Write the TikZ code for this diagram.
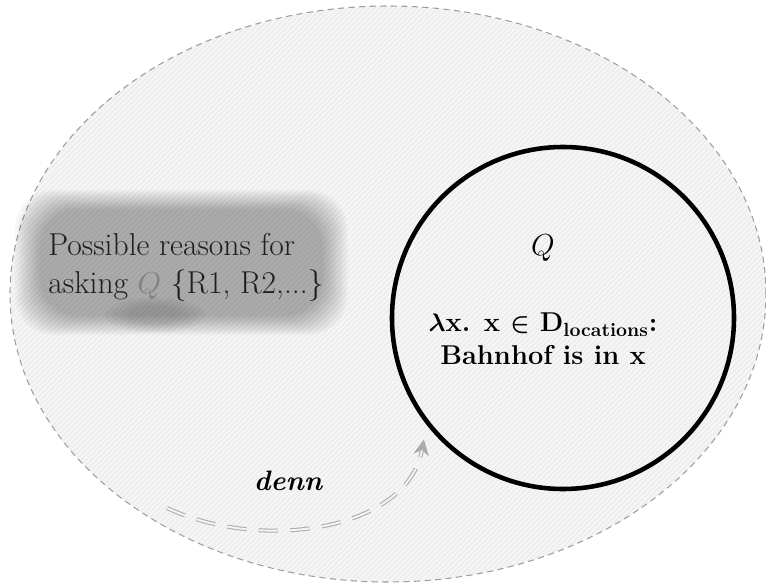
\documentclass[tikz,border=0pt]{standalone}
\usepackage{amsmath}
\usetikzlibrary{arrows.meta,patterns,calc}
\tikzset{
  becausearrow/.style={draw=black!33, line width=0.6pt, double=black!4, double distance=1.1pt,
    dash pattern=on 11pt off 7pt, -{Stealth[length=9pt,width=9pt,fill=black!33]}},
}

\begin{document}
\begin{tikzpicture}
			%%%%% START %%%%%
			\useasboundingbox (0, 0) rectangle (15.32, -11.66);
			
			\fill[black!4] (7.76, -5.88) ellipse (7.56 and 5.76);
			\fill[pattern=north east lines, pattern color=black!9] (7.76, -5.88) ellipse (7.56 and 5.76);
			\draw[line width=0.6pt, color=black!38, dash pattern=on 3.5pt off 2.5pt] (7.76, -5.88) ellipse (7.56 and 5.76);
			
			\foreach \i in {0,...,11}
				\fill[black, opacity=0.026, rounded corners=22pt] ($(0.3, -3.8)+(0.045*\i, -0.035*\i)$) rectangle ($(6.95, -6.7)-(0.045*\i, -0.035*\i)$);
			\foreach \i in {0,...,3}
				\fill[black, opacity=0.03] (3.1, -6.3) ellipse ({1.0-0.15*\i} and {0.35-0.05*\i});
			
			\node[text=black!88, align=left, font=\fontsize{18}{22}\selectfont] (reasons) at (3.72, -5.35)
				{Possible reasons for\\asking {\color{black!50}$Q$} \{R1, R2,...\}};
			
			\node[draw, circle, line width=2.6pt, minimum size=6.84cm, inner sep=0pt] (qset) at (11.26, -6.36) {};
			\node[font=\fontsize{17}{20}\selectfont] (qname) at (10.86, -4.96) {$Q$};
			\node[align=center, font=\bfseries\fontsize{15.5}{19}\selectfont] (qdef) at (10.86, -6.78)
				{$\boldsymbol{\lambda}$x. x $\boldsymbol{\in}$ D$_{\textbf{locations}}$:\\Bahnhof is in x};
			
			\node[font=\bfseries\itshape\fontsize{16}{19}\selectfont] (because) at (5.76, -9.62) {denn};
			\coordinate (becausestart) at (3.34, -10.16);
			\draw[becausearrow, shorten >=0.3cm] (becausestart) to[out=-25, in=-100] (qset.218);
			
			%%%%% END %%%%%
\end{tikzpicture}
\end{document}
